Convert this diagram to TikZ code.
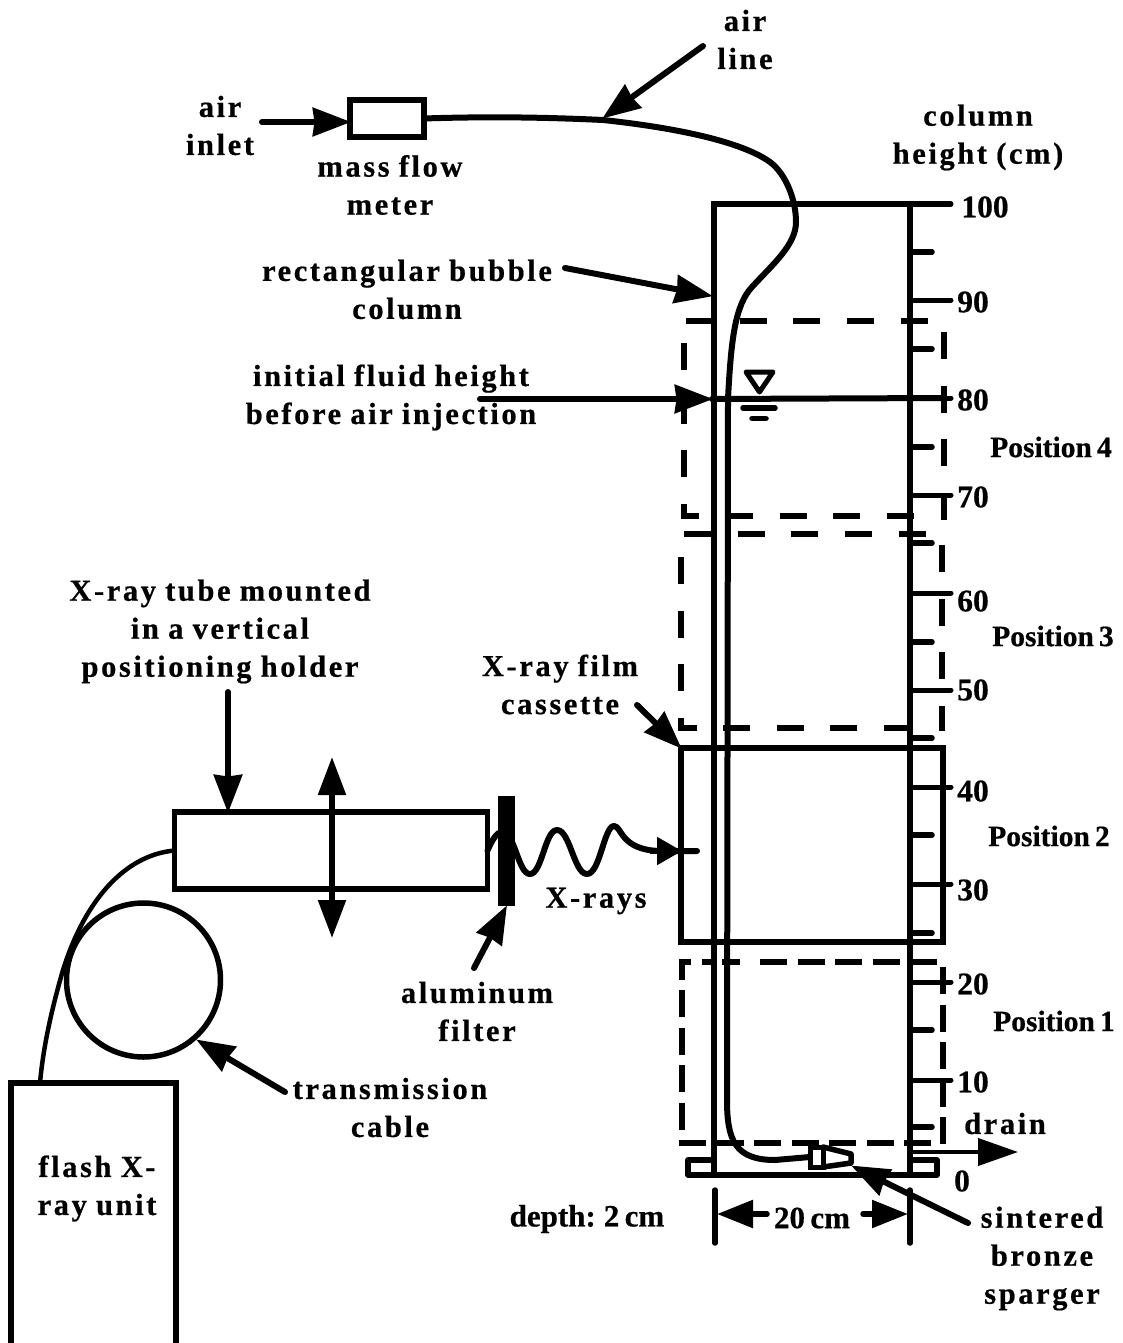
\documentclass[tikz,border=0pt]{standalone}
\usepackage{fontspec}
\usetikzlibrary{arrows.meta}
\newfontfamily\lblfont[LetterSpace=8.5,WordSpace=0.9,BoldFeatures={FakeBold=0.6}]{Liberation Serif}
\newfontfamily\tightfont[WordSpace=0.7,BoldFeatures={FakeBold=0.6}]{Liberation Serif}
\tikzset{
  x=1pt,y=-1pt,
  lab/.style={font=\lblfont\bfseries\fontsize{30.5}{38}\selectfont,align=center,inner sep=0pt},
  tlab/.style={font=\tightfont\bfseries\fontsize{29.5}{36}\selectfont,align=center,inner sep=0pt},
  nlab/.style={font=\tightfont\bfseries\fontsize{31.5}{36}\selectfont,align=center,inner sep=0pt},
  line/.style={line width=5.5pt,line cap=round,line join=round},
  thinline/.style={line width=4.5pt,line cap=round,line join=round},
  arr/.style={line width=6pt,line cap=round,-{Triangle[length=38pt,width=28pt,inset=1.5pt]},shorten >=-1pt},
  box/.style={draw,line width=5.5pt,rectangle,inner sep=0pt,outer sep=0pt,minimum width=#1},
  dashA/.style={line width=6pt,dash pattern=on 27pt off 26.7pt},
  dashB/.style={line width=6.5pt,dash pattern=on 27pt off 10.5pt},
  major/.style={line width=5pt,line cap=round},
  minor/.style={line width=5.5pt,line cap=round},
}
\begin{document}
\begin{tikzpicture}
\useasboundingbox (0,0) rectangle (1123,1343);
% shapes as nodes
\node[box=196pt,minimum height=971pt] (column) at (812,689.5) {};
\node[box=74pt,minimum height=37pt] (meter) at (387,118.5) {};
\node[box=313pt,minimum height=77pt] (tube) at (331,850.5) {};
\node[box=165pt,minimum height=270pt] (flash) at (93.5,1218) {};
\node[draw,circle,line width=5.5pt,minimum size=154pt,inner sep=0pt] (coil) at (143.5,980) {};
\node[box=262pt,minimum height=194pt] (cassette) at (812,845) {};
% base
\draw[line] (714,1160) -- (688,1160) -- (688,1175) -- (937,1175) -- (937,1160) -- (910,1160);
% dashed position boxes
\draw[dashA] (686,321) -- (944,321);
\draw[dashA] (944,332) -- (944,520);
\draw[dashA] (726,516) -- (915,516);
\draw[dashA] (684,343) -- (684,516) -- (699,516);
\draw[dashA] (684,534) -- (926,534);
\draw[dashA] (942,545) -- (942,731);
\draw[dashA] (723,728) -- (910,728);
\draw[dashA] (681,557) -- (681,728) -- (697,728);
\draw[dashB] (682,980) -- (682,962) -- (712,962);
\draw[dashB] (722,962) -- (740,962);
\draw[dashB] (760,962) -- (937,962);
\draw[dashB] (682,990) -- (682,1130);
\draw[dashB] (943,967) -- (943,1145);
\draw[dashB] (679,1143) -- (931,1143);
% scale ticks
\foreach \y in {204,300,398,495,593,690,787,884,982,1080} \draw[major] (910,\y) -- (951,\y);
\foreach \y in {252,349,447,543,642,738,835,933,1030,1127} \draw[minor] (910,\y) -- (932,\y);
% fluid level
\coordinate (lvlL) at (480,399);
\coordinate (lvlW) at (712,399);
\coordinate (lvlR) at (945,398);
\draw[arr] (lvlL) -- (lvlW);
\draw[line width=6pt,line cap=round] (lvlW) -- (lvlR);
\draw[thinline,line width=5pt] (746,372) -- (773,372) -- (759.5,392) -- cycle;
\draw[line] (743,408) -- (775,408);
\draw[line] (752,418.5) -- (766,418.5);
% sparger
\node[box=13pt,minimum height=20pt,line width=5pt] (sparger) at (816.5,1157) {};
\coordinate (sparg1) at (851,1154);
\coordinate (sparg2) at (851,1163);
\draw[line] (sparger.north east) -- (sparg1) -- (sparg2) -- (sparger.south east);
% air line
\draw[line,line width=6pt] (meter.east) .. controls (500,116) and (560,118) .. (603,120)
  .. controls (650,125) and (735,137) .. (770,162)
  .. controls (786,174) and (796,200) .. (796,222)
  .. controls (796,245) and (772,265) .. (752,287)
  .. controls (735,305) and (731,340) .. (728,399)
  -- (727,1100) .. controls (727,1140) and (735,1160) .. (775,1160)
  -- (sparger.west);
% X-ray wave
\coordinate (waveEnd) at (697,851);
\draw[line,line width=6pt] (tube.east) .. controls (492,840) and (497,832) .. (502,832)
  .. controls (515,832) and (518,874) .. (530,874)
  .. controls (542,874) and (545,830) .. (557,830)
  .. controls (570,830) and (574,874) .. (587,874)
  .. controls (600,874) and (604,826) .. (614,826)
  .. controls (622,826) and (620,850) .. (660,851)
  -- (waveEnd);
\coordinate (waveA) at (650,851);
\coordinate (waveB) at (682,851);
\draw[line width=5pt,-{Triangle[length=25pt,width=27pt]}] (waveA) -- (waveB);
% filter
\node[fill=black,minimum width=17pt,minimum height=110pt,inner sep=0pt] (filter) at (506.5,851) {};
% cable
\draw[thinline] (tube.west) .. controls (125,855) and (85,900) .. (63,970)
  .. controls (50,1015) and (43,1050) .. (flash.north -| 40,0);
% pointer arrows
\coordinate (inletT) at (262,122);
\draw[arr] (inletT) -- (inletT -| meter.west);
\coordinate (alT) at (703,46); \coordinate (alH) at (603,118);
\draw[arr] (alT) -- (alH);
\coordinate (rcT) at (565,268); \coordinate (rcH) at (712,296);
\draw[arr] (rcT) -- (rcH);
\coordinate (fcT) at (637,705);
\draw[arr] (fcT) -- (cassette.north west);
\coordinate (tuT) at (228,692);
\draw[arr] (tuT) -- (tuT |- tube.north);
\coordinate (daT) at (332,757); \coordinate (daB) at (332,938);
\draw[line width=5.5pt,{Triangle[length=38pt,width=27pt]}-{Triangle[length=38pt,width=27pt]}] (daT) -- (daB);
\coordinate (afT) at (474,968);
\draw[arr] (afT) -- (filter.south);
\coordinate (tcT) at (285,1092); \coordinate (tcH) at (197,1040);
\draw[arr] (tcT) -- (tcH);
\coordinate (spT) at (968,1223); \coordinate (spH) at (852,1166);
\draw[arr] (spT) -- (spH);
\coordinate (drS) at (912,1152); \coordinate (drH) at (1018,1152);
\draw[line width=4pt,-{Triangle[length=40pt,width=27pt]}] (drS) -- (drH);
% dimension
\coordinate (dLt) at (715,1190); \coordinate (dLb) at (715,1243);
\coordinate (dRt) at (910,1190); \coordinate (dRb) at (910,1243);
\draw[line] (dLt) -- (dLb);
\draw[line] (dRt) -- (dRb);
\coordinate (dA) at (767,1214); \coordinate (dB) at (717,1214);
\coordinate (dC) at (863,1214); \coordinate (dD) at (908,1214);
\draw[line width=5.5pt,line cap=round,-{Triangle[length=36pt,width=27pt]}] (dA) -- (dB);
\draw[line width=5.5pt,line cap=round,-{Triangle[length=36pt,width=27pt]}] (dC) -- (dD);
% labels
\node[lab] (tInlet) at (220,125.5) {air\\inlet};
\node[lab] (tMeter) at (390,185) {mass flow\\meter};
\node[lab] (tLine) at (745,39.5) {air\\line};
\node[lab] (tHeight) at (978,137.5) {column\\height (cm)};
\node[lab] (tRect) at (407,289.5) {rectangular bubble\\column};
\node[lab] (tInit) at (391,397.5) {initial fluid height\\before air injection};
\node[lab] (tTube) at (220,631.5) {X-ray tube mounted\\in a vertical\\positioning holder};
\node[lab] (tFilm) at (560,684.5) {X-ray film\\cassette};
\node[lab] (tRays) at (596,901) {X-rays};
\node[lab] (tAlu) at (477,1011.5) {aluminum\\filter};
\node[lab] (tTrans) at (390,1107.5) {transmission\\cable};
\node[lab] (tFlash) at (97,1188.5) {flash X-\\ray unit};
\node[lab] (tSint) at (1042,1258.5) {sintered\\bronze\\sparger};
\node[lab] (tDrain) at (1005,1123.5) {drain};
\node[tlab,font=\tightfont\bfseries\fontsize{31}{36}\selectfont] (tDepth) at (587,1219) {depth: 2 cm};
\node[tlab,font=\tightfont\bfseries\fontsize{31}{36}\selectfont] (tDim) at (812,1218) {20 cm};
\foreach \n/\x/\y/\t in {a/985/207/100,b/973/302/90,c/973/400/80,d/973/497/70,e/973/601/60,f/973/690/50,g/973/791/40,h/973/890/30,i/973/984/20,j/973/1082/10,k/962/1181/0}
  \node[nlab] (n\n) at (\x,\y) {\t};
\node[tlab] (p4) at (1051,447) {Position 4};
\node[tlab] (p3) at (1053,636) {Position 3};
\node[tlab] (p2) at (1049,836) {Position 2};
\node[tlab] (p1) at (1054,1021) {Position 1};
\end{tikzpicture}
\end{document}
